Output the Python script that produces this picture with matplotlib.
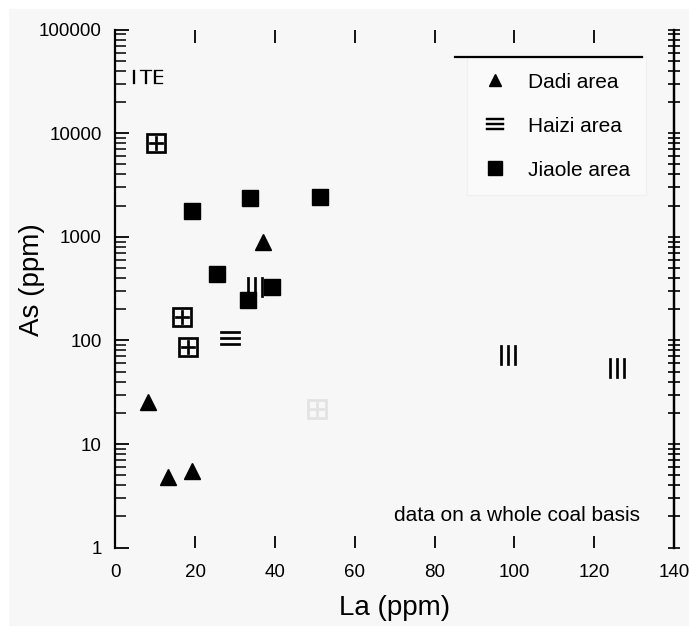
import matplotlib
matplotlib.use("Agg")
import matplotlib.pyplot as plt
from matplotlib.patches import Rectangle
from matplotlib.ticker import FixedLocator, NullFormatter

plt.rcParams['font.family'] = ['Liberation Sans', 'DejaVu Sans']

# Dadi area (triangles)
dadi_la = [36.9, 8.2, 13.2, 19.3]
dadi_as = [891, 25.6, 4.83, 5.52]

# Haizi area (glyph markers, as printed in the scan)
haizi_la = [8.1, 10.2, 16.8, 18.3, 28.7, 50.4, 35.0, 98.3, 125.8]
haizi_as = [34800, 8000, 167, 87, 105, 22, 328, 72, 54]
haizi_glyph = [r'$\mathrm{I\,TE}$', r'$\boxplus$', r'$\boxplus$', r'$\boxplus$',
               r'$\equiv$', r'$\boxplus$', r'$|||$', r'$|||$', r'$|||$']

# Jiaole area (squares)
jiaole_la = [19.1, 33.7, 51.3, 25.5, 33.3, 39.2]
jiaole_as = [1775, 2355, 2405, 438, 245, 326]

fig = plt.figure(figsize=(6.89, 6.26), dpi=100, facecolor='white')
fig.patches.append(Rectangle((9/689, 0), 1, 1 - 9/626, transform=fig.transFigure,
                             facecolor='#f7f7f7', edgecolor='none', zorder=-10))
ax = fig.add_axes([0.1676, 0.1252, 0.8106, 0.8274])
ax.set_facecolor('#f7f7f7')

# Haizi first, squares sit on top of it
for i in range(len(haizi_la)):
    col = '#e2e2e2' if i == 5 else 'black'
    if i == 0:
        sz, mew = 22, 0.2
    else:
        sz, mew = 15, 0.5
    ax.plot(haizi_la[i], haizi_as[i], linestyle='none', marker=haizi_glyph[i],
            color=col, markersize=sz, markeredgewidth=mew, zorder=2)
ax.plot(dadi_la, dadi_as, linestyle='none', marker='^', color='black', markersize=11, zorder=3)
ax.plot(jiaole_la, jiaole_as, linestyle='none', marker='s', color='black', markersize=11.5, zorder=3)

ax.set_yscale('log')
ax.set_xlim(0, 140)
ax.set_ylim(1, 100000)

ax.spines['top'].set_visible(False)
ax.spines['bottom'].set_visible(False)
ax.spines['left'].set_linewidth(1.6)
ax.spines['right'].set_linewidth(1.6)

ax.xaxis.set_major_locator(FixedLocator([0, 20, 40, 60, 80, 100, 120, 140]))
ax.tick_params(axis='x', which='major', direction='in', length=9, width=1.3,
               top=True, bottom=True, labelsize=13.5, pad=12)
ax.yaxis.set_major_locator(FixedLocator([1, 10, 100, 1000, 10000, 100000]))
ax.set_yticklabels(['1', '10', '100', '1000', '10000', '100000'])
ax.yaxis.set_minor_locator(FixedLocator([m * 10**e for e in range(0, 5) for m in range(2, 10)]))
ax.yaxis.set_minor_formatter(NullFormatter())
ax.tick_params(axis='y', which='major', direction='in', length=10, width=1.3,
               left=True, right=False, labelsize=13.5, pad=10)
ax.tick_params(axis='y', which='minor', direction='in', length=8, width=1.1,
               left=True, right=False)

# right axis ticks cross the spine
ax2 = ax.twinx()
ax2.set_yscale('log')
ax2.set_ylim(1, 100000)
ax2.yaxis.set_major_locator(FixedLocator([1, 10, 100, 1000, 10000, 100000]))
ax2.yaxis.set_minor_locator(FixedLocator([m * 10**e for e in range(0, 5) for m in range(2, 10)]))
ax2.yaxis.set_major_formatter(NullFormatter())
ax2.yaxis.set_minor_formatter(NullFormatter())
ax2.tick_params(axis='y', which='both', direction='inout', length=8, width=1.2)
for s in ['top', 'bottom', 'left']:
    ax2.spines[s].set_visible(False)
ax2.spines['right'].set_linewidth(1.6)

ax.set_xlabel('La (ppm)', fontsize=20, labelpad=10)
ax.set_ylabel('As (ppm)', fontsize=20, va='center')
ax.yaxis.set_label_coords(-0.1495, 0.517)

ax.text(0.94, 0.062, 'data on a whole coal basis', transform=ax.transAxes,
        ha='right', va='center', fontsize=15)

h1, = ax.plot([], [], linestyle='none', marker='^', color='black', markersize=9)
h2, = ax.plot([], [], linestyle='none', marker=r'$\equiv$', color='black',
              markersize=13, markeredgewidth=0.3)
h3, = ax.plot([], [], linestyle='none', marker='s', color='black', markersize=9.5)
leg = ax.legend([h1, h2, h3], ['Dadi area', 'Haizi area', 'Jiaole area'],
                loc='upper left', bbox_to_anchor=(0.629, 0.947), fontsize=15,
                labelspacing=1.2, handlelength=1.2, handletextpad=1.0,
                borderpad=0.75, borderaxespad=0, frameon=True, fancybox=False,
                facecolor='#fafafa', edgecolor='#f0f0f0', framealpha=1)
leg.get_frame().set_linewidth(0.8)
leg.set_zorder(1)
ax.plot([0.608, 0.943], [0.947, 0.947], transform=ax.transAxes, color='black',
        linewidth=1.6, clip_on=False, zorder=5)

fig.savefig('out.png', dpi=100, facecolor=fig.get_facecolor())
